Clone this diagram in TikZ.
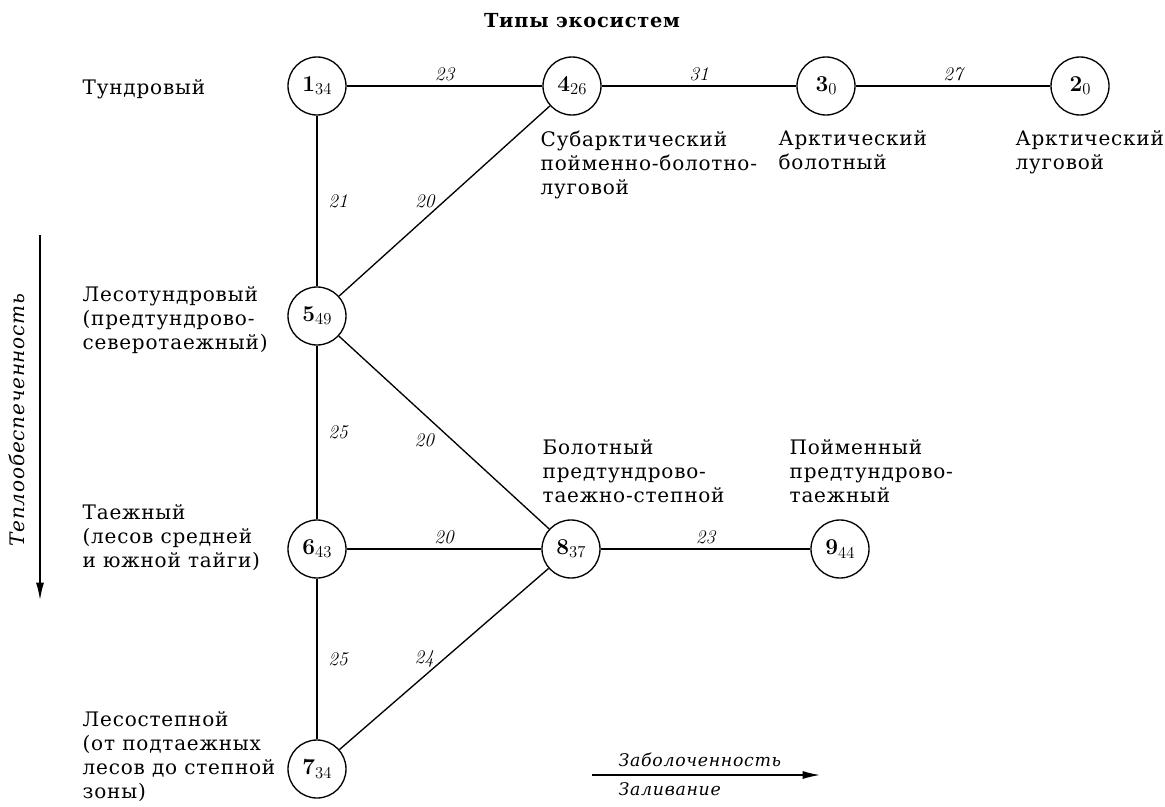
\documentclass[tikz,border=0pt]{standalone}
\usetikzlibrary{arrows.meta}
\usepackage[no-math]{fontspec}
\setmainfont{DejaVu Serif}[LetterSpace=4]
\newfontfamily\lmfont{Latin Modern Roman}

\begin{document}
\begin{tikzpicture}[x=0.75pt,y=-0.75pt,line width=1pt,
    eco/.style={draw,circle,minimum size=43.5pt,inner sep=0pt,font=\lmfont\fontsize{17}{18}\selectfont},
    wt/.style={inner sep=3pt,font=\lmfont\itshape\fontsize{14.5}{16}\selectfont},
    rt/.style={right=5pt},
    lf/.style={left=4pt},
    lfb/.style={left=4pt,yshift=-6pt},
    txt/.style={anchor=north west,inner sep=0pt,align=left,font=\fontsize{15}{18}\selectfont},
    axis/.style={-{Latex[length=13pt,width=6pt]}}]
    \useasboundingbox (0,0) rectangle (1165,807);
    \node[anchor=base,font=\fontsize{14.5}{16}\selectfont\bfseries] (title) at (582,27) {Типы экосистем};
    % ecosystems
    \foreach \n/\s/\x/\y in {1/34/317/86, 4/26/572/86, 3/0/826/86, 2/0/1080/86,
        5/49/317/316, 6/43/317/549, 8/37/571/549, 9/44/840/549, 7/34/317/769} {
        \node[eco] (n\n) at (\x,\y) {\textbf{\n}\raisebox{-0.35ex}{\fontsize{12.5}{13}\selectfont\s}};
    };
    % links
    \foreach \a/\b/\w/\p in {1/4/23/above, 4/3/31/above, 3/2/27/above, 1/5/21/rt,
        5/4/20/lf, 5/6/25/rt, 5/8/20/lfb, 6/8/20/above, 8/9/23/above,
        6/7/25/rt, 7/8/24/lf} {
        \draw (n\a) -- node[wt,\p] {\w} (n\b);
    };
    % names
    \node[txt] (t1) at (82,79) {Тундровый};
    \node[txt] (t5) at (82,286) {Лесотундровый\\(предтундрово-\\северотаежный)};
    \node[txt] (t6) at (82,504) {Таежный\\(лесов средней\\и южной тайги)};
    \node[txt] (t7) at (82,711) {Лесостепной\\(от подтаежных\\лесов до степной\\зоны)};
    \node[txt] (t4) at (540,130) {Субарктический\\пойменно-болотно-\\луговой};
    \node[txt] (t3) at (778,130) {Арктический\\болотный};
    \node[txt] (t2) at (1015,130) {Арктический\\луговой};
    \node[txt] (t8) at (542,439) {Болотный\\предтундрово-\\таежно-степной};
    \node[txt] (t9) at (789,439) {Пойменный\\предтундрово-\\таежный};
    % axes
    \coordinate (h1) at (40,235);
    \coordinate (h2) at (40,600);
    \draw[axis] (h1) -- (h2);
    \node[rotate=90,font=\fontsize{15}{16}\selectfont\itshape] (heat) at (17,420) {Теплообеспеченность};
    \coordinate (w1) at (592,775);
    \coordinate (w2) at (820,775);
    \draw[axis] (w1) -- (w2);
    \node[anchor=base west,inner sep=0pt,font=\fontsize{13}{16}\selectfont\itshape] (bog) at (618,766) {Заболоченность};
    \node[anchor=base west,inner sep=0pt,font=\fontsize{13}{16}\selectfont\itshape] (flood) at (618,795) {Заливание};
\end{tikzpicture}
\end{document}
